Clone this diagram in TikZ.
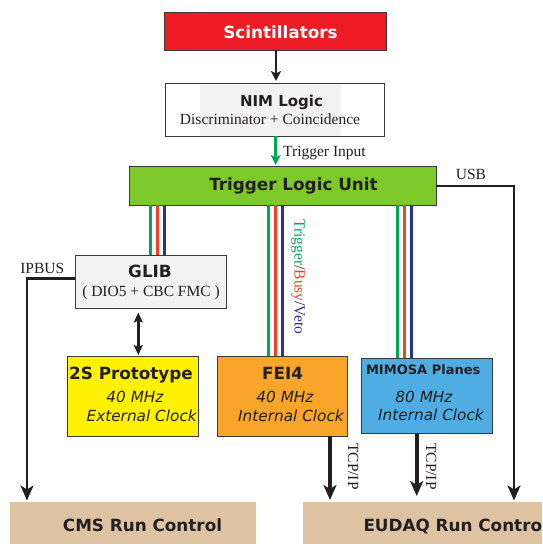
\documentclass[tikz,border=0pt]{standalone}
\usepackage{fontspec}
\setmainfont{Liberation Serif}
\setsansfont{DejaVu Sans}
\usetikzlibrary{arrows.meta}
\definecolor{txt}{HTML}{231F20}
\definecolor{bord}{HTML}{3A3A3A}
\definecolor{scinred}{HTML}{ED1C24}
\definecolor{tlugreen}{HTML}{7DC92A}
\definecolor{glibgray}{HTML}{F2F2F2}
\definecolor{proto}{HTML}{FFF200}
\definecolor{fei}{HTML}{F8A52A}
\definecolor{mimosa}{HTML}{4FADE3}
\definecolor{runc}{HTML}{DDC3A2}
\definecolor{lgreen}{HTML}{00A651}
\definecolor{lred}{HTML}{EF4123}
\definecolor{lblue}{HTML}{2E3192}
\begin{document}
\begin{tikzpicture}[x=1pt,y=-1pt,
  box/.style={draw=bord,line width=1pt,inner sep=0pt,outer sep=0pt},
  title/.style={font=\sffamily\bfseries\fontsize{16.8}{18}\selectfont,text=txt,inner sep=0pt,anchor=base},
  serif/.style={font=\fontsize{15.5}{17}\selectfont,text=txt,inner sep=0pt,anchor=base},
  ital/.style={font=\sffamily\itshape\fontsize{15.3}{17}\selectfont,text=txt,inner sep=0pt,anchor=base},
  wire/.style={line width=2.5pt,draw=txt},
  bigarrow/.style={-{Stealth[length=15pt,width=13pt,inset=4pt]}},
  smallarrow/.style={-{Stealth[length=10pt,width=10pt,inset=2.5pt]}},
  sig/.style={line width=3.4pt},
]
\useasboundingbox (0,0) rectangle (542,544);
\clip (0,0) rectangle (542,544);

% columns
\coordinate (ca) at (276,0);
\coordinate (cg) at (275.7,0);
\coordinate (g1) at (150.7,0);
\coordinate (g2) at (157.7,0);
\coordinate (g3) at (164.7,0);
\coordinate (f1) at (268.3,0);
\coordinate (f2) at (275.3,0);
\coordinate (f3) at (282.3,0);
\coordinate (m1) at (397.5,0);
\coordinate (m2) at (404.5,0);
\coordinate (m3) at (411.5,0);
\coordinate (dx) at (138.3,0);
\coordinate (ipx) at (27,0);
\coordinate (usbx) at (514,0);
\coordinate (t1) at (330,0);
\coordinate (t2) at (416.7,0);

% boxes
\node[box,fill=scinred,minimum width=222pt,minimum height=38pt] (scin) at (275.5,31) {};
\node[box,fill=white,minimum width=219pt,minimum height=53pt] (nim) at (274.5,109.5) {};
\fill[glibgray] (200,83) rectangle (341,136);
\draw[bord,line width=1pt] (nim.north west) rectangle (nim.south east);
\node[box,fill=tlugreen,minimum width=307pt,minimum height=39pt] (tlu) at (282.5,185.5) {};
\node[box,fill=glibgray,minimum width=151.5pt,minimum height=53pt] (glib) at (150.75,281.5) {};
\node[box,fill=proto,minimum width=131pt,minimum height=80pt] (proto) at (132.5,396) {};
\node[box,fill=fei,minimum width=130.5pt,minimum height=80pt] (fei) at (282.4,396) {};
\node[box,fill=mimosa,minimum width=131pt,minimum height=75pt] (mim) at (426.5,395.9) {};
\node[fill=runc,inner sep=0pt,outer sep=0pt,minimum width=246pt,minimum height=60pt,anchor=north west] (cms) at (10.4,502) {};
\node[fill=runc,inner sep=0pt,outer sep=0pt,minimum width=260pt,minimum height=60pt,anchor=north west] (eud) at (303,502) {};

% connectors
\draw[wire,smallarrow,shorten >=2pt] (scin.south -| ca) -- (nim.north -| ca);
\draw[line width=2.5pt,lgreen,-{Stealth[length=10pt,width=10pt,inset=2.5pt]},shorten >=1pt] (nim.south -| cg) -- (tlu.north -| cg);

\draw[sig,lgreen] (tlu.south -| g1) -- (glib.north -| g1);
\draw[sig,lred]   (tlu.south -| g2) -- (glib.north -| g2);
\draw[sig,lblue]  (tlu.south -| g3) -- (glib.north -| g3);
\draw[sig,lgreen] (tlu.south -| f1) -- (fei.north -| f1);
\draw[sig,lred]   (tlu.south -| f2) -- (fei.north -| f2);
\draw[sig,lblue]  (tlu.south -| f3) -- (fei.north -| f3);
\draw[sig,lgreen] (tlu.south -| m1) -- (mim.north -| m1);
\draw[sig,lred]   (tlu.south -| m2) -- (mim.north -| m2);
\draw[sig,lblue]  (tlu.south -| m3) -- (mim.north -| m3);

\draw[line width=3pt,txt,{Stealth[length=10pt,width=9pt,inset=2pt]}-{Stealth[length=10pt,width=9pt,inset=2pt]},shorten <=4.5pt,shorten >=1pt] (glib.south -| dx) -- (proto.north -| dx);

\draw[wire,bigarrow,shorten >=1.5pt] ([yshift=3.2pt]glib.west) -| (cms.north -| ipx);
\draw[wire,bigarrow,shorten >=1.5pt] ([yshift=-0.5pt]tlu.east) -| (eud.north -| usbx);
\draw[line width=4pt,txt,bigarrow,shorten >=2pt] (fei.south -| t1) -- (eud.north -| t1);
\draw[line width=4pt,txt,bigarrow,shorten >=6pt] (mim.south -| t2) -- (eud.north -| t2);

% texts
\node[title,text=white] (tscin) at (280.5,38.3) {Scintillators};
\node[title,font=\sffamily\bfseries\fontsize{15}{17}\selectfont] (tnim) at (281.5,106) {NIM Logic};
\node[serif] (tdisc) at (270,124) {Discriminator + Coincidence};
\node[serif,anchor=base west] (tinput) at (283,156.7) {Trigger Input};
\node[title] (ttlu) at (293.5,190.7) {Trigger Logic Unit};
\node[serif] (tusb) at (471,179) {USB};
\node[serif] (tipbus) at (42.3,273.3) {IPBUS};
\node[title] (tglib) at (150,277.7) {GLIB};
\node[serif] (tdio) at (151,296.7) {( DIO5 + CBC FMC )};
\node[serif,rotate=-90,anchor=base west] (ttbv) at (294.7,219.3) {\textcolor{lgreen}{Trigger}/\textcolor{lred}{Busy}/\textcolor{lblue}{Veto}};
\node[title] (tproto) at (131,379.3) {2S Prototype};
\node[ital] (tproto2) at (135,402.7) {40 MHz};
\node[ital,anchor=base west] (tproto3) at (86.4,421) {External Clock};
\node[title] (tfei) at (282.5,379.3) {FEI4};
\node[ital] (tfei2) at (285,402.7) {40 MHz};
\node[ital] (tfei3) at (291,421) {Internal Clock};
\node[title,font=\sffamily\bfseries\fontsize{13}{15}\selectfont] (tmim) at (423.2,374.3) {MIMOSA Planes};
\node[ital] (tmim2) at (424,402.7) {80 MHz};
\node[ital] (tmim3) at (431,420) {Internal Clock};
\node[serif,rotate=-90,anchor=base west] (ttcp1) at (348,443) {TCP/IP};
\node[serif,rotate=-90,anchor=base west] (ttcp2) at (426,443) {TCP/IP};
\node[title] (tcms) at (142.5,531.5) {CMS Run Control};
\node[title,anchor=base west] (teud) at (363.3,531.5) {EUDAQ Run Control};
\end{tikzpicture}
\end{document}
